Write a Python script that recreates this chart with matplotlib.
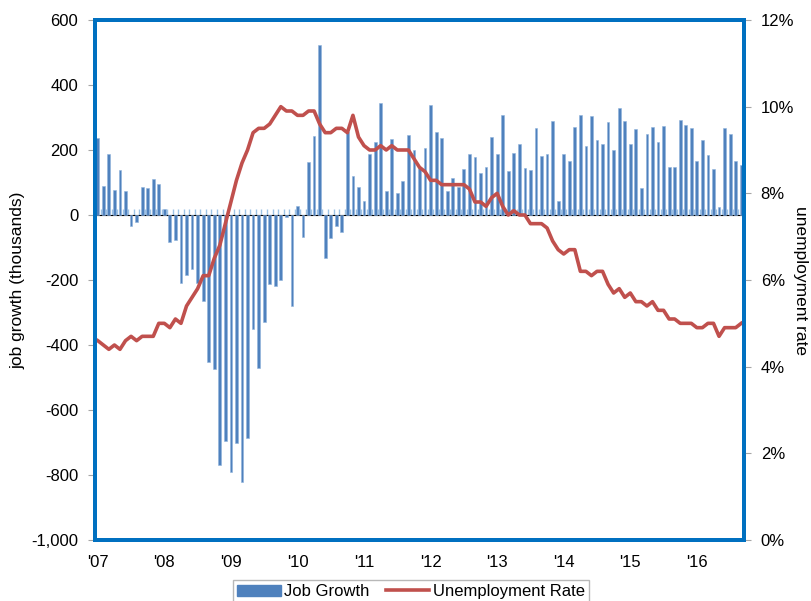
import matplotlib
matplotlib.use("Agg")
import matplotlib.pyplot as plt
import numpy as np
from matplotlib.lines import Line2D
from matplotlib.patches import Patch
from matplotlib.ticker import PercentFormatter

plt.rcParams["font.family"] = ["Liberation Sans", "DejaVu Sans"]

# Monthly data, Jan 2007 - Sep 2016
job_growth = [
    238, 88, 188, 76, 140, 75, -33, -20, 85, 82, 112, 95,             # 2007
    17, -84, -78, -210, -185, -165, -209, -266, -452, -473, -769, -695,  # 2008
    -791, -703, -823, -686, -351, -470, -329, -212, -219, -200, -7, -279,  # 2009
    28, -69, 163, 243, 522, -133, -70, -34, -52, 255, 119, 87,        # 2010
    43, 189, 225, 344, 73, 235, 69, 105, 245, 201, 146, 207,          # 2011
    337, 256, 237, 74, 114, 85, 142, 189, 179, 129, 149, 241,         # 2012
    189, 309, 135, 191, 217, 145, 140, 268, 183, 188, 290, 43,        # 2013
    188, 167, 270, 308, 212, 304, 230, 217, 285, 199, 328, 290,       # 2014
    219, 264, 84, 250, 271, 226, 275, 148, 148, 293, 278, 269,        # 2015
    167, 232, 185, 143, 24, 269, 250, 167, 153,                       # 2016
]
unemployment = [
    4.6, 4.5, 4.4, 4.5, 4.4, 4.6, 4.7, 4.6, 4.7, 4.7, 4.7, 5.0,
    5.0, 4.9, 5.1, 5.0, 5.4, 5.6, 5.8, 6.1, 6.1, 6.5, 6.8, 7.3,
    7.8, 8.3, 8.7, 9.0, 9.4, 9.5, 9.5, 9.6, 9.8, 10.0, 9.9, 9.9,
    9.8, 9.8, 9.9, 9.9, 9.6, 9.4, 9.4, 9.5, 9.5, 9.4, 9.8, 9.3,
    9.1, 9.0, 9.0, 9.1, 9.0, 9.1, 9.0, 9.0, 9.0, 8.8, 8.6, 8.5,
    8.3, 8.3, 8.2, 8.2, 8.2, 8.2, 8.2, 8.1, 7.8, 7.8, 7.7, 7.9,
    8.0, 7.7, 7.5, 7.6, 7.5, 7.5, 7.3, 7.3, 7.3, 7.2, 6.9, 6.7,
    6.6, 6.7, 6.7, 6.2, 6.2, 6.1, 6.2, 6.2, 5.9, 5.7, 5.8, 5.6,
    5.7, 5.5, 5.5, 5.4, 5.5, 5.3, 5.3, 5.1, 5.1, 5.0, 5.0, 5.0,
    4.9, 4.9, 5.0, 5.0, 4.7, 4.9, 4.9, 4.9, 5.0,
]
year_labels = ["'07", "'08", "'09", "'10", "'11", "'12", "'13", "'14", "'15", "'16"]

BAR_COLOR = "#4F81BD"
LINE_COLOR = "#C0504D"
FRAME_COLOR = "#0070C0"
ZERO_COLOR = "#9DC3E6"

n = len(job_growth)
x = np.arange(n)

fig = plt.figure(figsize=(8.12, 6.01), dpi=100)
ax = fig.add_axes([95 / 812, 1 - 540 / 601, (744 - 95) / 812, (540 - 20) / 601])

# bars - job growth
ax.bar(x, job_growth, width=0.5, color=BAR_COLOR, edgecolor="#8FB3DC", linewidth=0.4, zorder=2)
ax.set_xlim(-0.5, n - 0.5)
ylo, yhi = -1000, 600
ax.set_ylim(ylo, yhi)
ax.set_yticks(np.arange(-1000, 601, 200))
ax.set_yticklabels([f"{v:,}" for v in range(-1000, 601, 200)])
ax.set_xticks(np.arange(0, n, 12))
ax.set_xticklabels(year_labels)
ax.tick_params(axis="x", length=0, pad=11, labelsize=12)
ax.tick_params(axis="y", direction="out", length=5, color="#A6A6A6", pad=7, labelsize=12)
ax.set_ylabel("job growth (thousands)", fontsize=12.5, labelpad=4)

# zero axis with month tick marks
zero_pos = (0 - ylo) / (yhi - ylo)
sec = ax.secondary_xaxis(zero_pos)
sec.set_xticks(np.arange(-0.5, n, 1))
sec.tick_params(axis="x", direction="out", length=4, color=ZERO_COLOR, labelbottom=False,
                labeltop=False, width=1)
sec.spines["bottom"].set_color(ZERO_COLOR)
sec.spines["bottom"].set_linewidth(1.5)

# line - unemployment rate
ax2 = ax.twinx()
ax2.plot(x, unemployment, color=LINE_COLOR, linewidth=2.6, solid_joinstyle="round")
ax2.set_ylim(0, 12)
ax2.set_yticks(np.arange(0, 13, 2))
ax2.yaxis.set_major_formatter(PercentFormatter(decimals=0))
ax2.tick_params(axis="y", direction="out", length=5, color="#A6A6A6", pad=7, labelsize=12)
ax2.set_ylabel("unemployment rate", fontsize=12.5, rotation=-90, va="center", ha="center")
ax2.yaxis.set_label_coords(1.087, 0.5)

for a in (ax, ax2):
    for s in a.spines.values():
        s.set_color(FRAME_COLOR)
        s.set_linewidth(2.8)

handles = [
    Patch(facecolor=BAR_COLOR, edgecolor=BAR_COLOR),
    Line2D([0], [0], color=LINE_COLOR, linewidth=2.6),
]
leg = fig.legend(handles, ["Job Growth", "Unemployment Rate"], loc="upper center",
                 bbox_to_anchor=(411 / 812, 1 - 580 / 601), ncol=2, fontsize=12,
                 frameon=True, fancybox=False, edgecolor="#A6A6A6",
                 handlelength=2.6, handletextpad=0.2, columnspacing=1.0,
                 borderpad=0.25, borderaxespad=0)
leg.get_frame().set_linewidth(1.0)

fig.savefig("out.png", dpi=100)
